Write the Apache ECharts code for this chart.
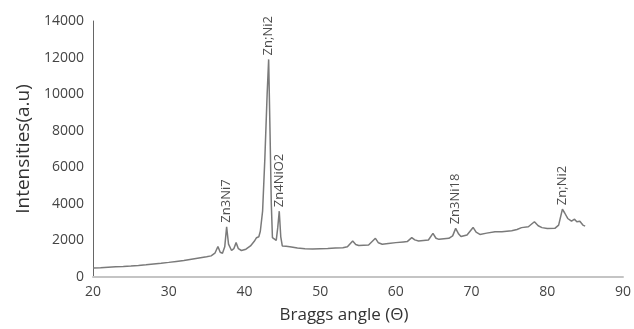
<!DOCTYPE html>
<html>
<head>
<meta charset="utf-8">
<script src="https://cdn.jsdelivr.net/npm/echarts@6/dist/echarts.min.js"></script>
<style>html,body{margin:0;padding:0;background:#fff}#c{width:634px;height:329px}</style>
</head>
<body>
<div id="c"></div>
<script>
const angles = [20,21,22,23,24,25,26,27,28,29,30,31,32,33,34,35,35.6,36.1,36.5,36.8,37.1,37.4,37.65,37.9,38.3,38.6,38.9,39.2,39.6,40.2,40.8,41.3,41.6,41.9,42.1,42.4,42.7,43.0,43.2,43.4,43.55,43.7,43.9,44.2,44.4,44.6,44.8,45.0,45.5,46,47,48,49,50,51,52,53,53.6,54.3,54.7,55.1,56.4,57.3,57.7,58.2,59,60,61,61.5,62.1,62.5,63,64.3,64.9,65.3,65.7,67,67.5,67.9,68.3,68.6,69.4,70.2,70.6,71.1,72,73.1,74,75.3,76,76.6,77.5,78.3,78.8,79.3,80,81,81.5,82.0,82.3,82.7,83.2,83.6,83.9,84.3,84.7,85];
const intensities = [488,505,530,555,575,600,630,670,715,755,800,850,900,970,1040,1110,1155,1300,1665,1350,1300,1650,2750,1800,1450,1550,1880,1550,1450,1520,1700,1950,2150,2200,2500,3600,6500,10000,11900,7500,4000,2150,2100,2000,2700,3600,2200,1700,1680,1660,1580,1550,1535,1550,1560,1580,1600,1650,1970,1780,1720,1750,2115,1870,1790,1830,1880,1920,1935,2150,2030,1970,2025,2390,2120,2060,2115,2250,2660,2350,2210,2300,2710,2450,2330,2400,2480,2470,2530,2600,2700,2750,3020,2800,2700,2650,2660,2840,3710,3500,3200,3050,3160,3020,3050,2840,2780];
const peakAngles = [37.65, 43.2, 44.6, 67.9, 82.0];
const peakValues = [2750, 11900, 3600, 2660, 3710];
const peakLabels = ["Zn3Ni7", "Zn;Ni2", "Zn4NiO2", "Zn3Ni18", "Zn;Ni2"];
const xTicks = [20,30,40,50,60,70,80,90];
const yTicks = [0,2000,4000,6000,8000,10000,12000,14000];

const chart = echarts.init(document.getElementById('c'));
const font = '"Open Sans", "DejaVu Sans", sans-serif';
chart.setOption({
  animation: false,
  backgroundColor: '#fff',
  grid: {left: 93, right: 9, top: 21, bottom: 50},
  xAxis: {
    type: 'value', min: xTicks[0], max: xTicks[xTicks.length-1], interval: 10,
    name: 'Braggs angle (\u0398)', nameLocation: 'middle', nameGap: 30,
    nameTextStyle: {fontFamily: font, fontSize: 17, color: '#333', padding: [0, 28, 0, 0]},
    axisLine: {show: true, lineStyle: {color: '#c4c4c4', width: 2}},
    axisTick: {show: false},
    splitLine: {show: false},
    axisLabel: {fontFamily: font, fontSize: 14, color: '#444', margin: 8}
  },
  yAxis: {
    type: 'value', min: yTicks[0], max: yTicks[yTicks.length-1], interval: 2000,
    name: 'Intensities(a.u)', nameLocation: 'middle', nameGap: 60,
    nameTextStyle: {fontFamily: font, fontSize: 19, color: '#333'},
    axisLine: {show: true, lineStyle: {color: '#666', width: 1}},
    axisTick: {show: false},
    splitLine: {show: false},
    axisLabel: {fontFamily: font, fontSize: 14, color: '#444', margin: 9, formatter: v => String(v)}
  },
  series: [
    {
      type: 'line', data: angles.map((a, i) => [a, intensities[i]]),
      showSymbol: false, symbol: 'none',
      lineStyle: {color: '#7a7a7a', width: 1.5}
    },
    {
      type: 'scatter', symbolSize: 0,
      data: peakAngles.map((a, i) => ({value: [a, peakValues[i]], name: peakLabels[i]})),
      label: {
        show: true, position: 'top', distance: 4, rotate: 90,
        align: 'left', verticalAlign: 'middle',
        formatter: p => p.name,
        fontFamily: font, fontSize: 13, color: '#222'
      }
    }
  ]
});
</script>
</body>
</html>
